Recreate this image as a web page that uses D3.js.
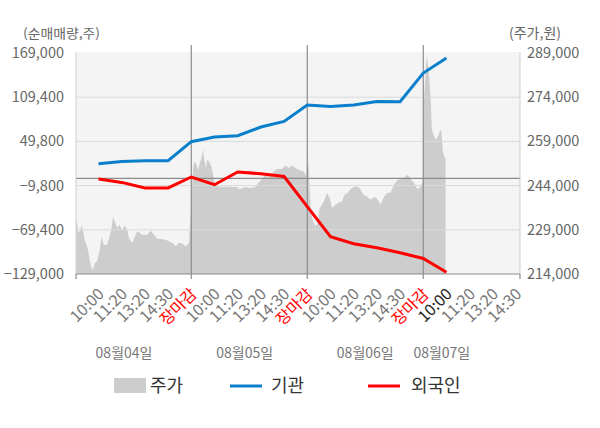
<!DOCTYPE html>
<html><head><meta charset="utf-8">
<script src="https://cdn.jsdelivr.net/npm/d3@7"></script>
<style>
html,body{margin:0;padding:0;background:#fff;}
svg{display:block;font-family:"Noto Sans CJK KR","Noto Sans",sans-serif;}
</style></head>
<body><svg id="c" width="600" height="428"></svg>
<script>
// ---- data ----
const tickLabels = ["10:00","11:20","13:20","14:30","장마감"];
const dateLabels = ["08월04일","08월05일","08월06일","08월07일"];
const leftTicks = [-129000,-69400,-9800,49800,109400,169000];
const rightTicks = [214000,229000,244000,259000,274000,289000];
// net buying (shares), one value per tick slot 1..16
const institution = [19700,22800,23800,23800,49400,55700,57500,69200,76800,98900,97000,98900,103700,103300,142000,162300];
const foreign = [-900,-5500,-13000,-13000,1800,-8600,8500,6200,2500,-38200,-78700,-88100,-93500,-100300,-108000,-126600];
// stock price (won): time position (tick slots) and price
const pricePos = [0,0.14,0.22,0.29,0.40,0.51,0.58,0.68,0.75,0.84,0.94,1.04,1.13,1.23,1.37,1.44,1.55,1.63,1.70,1.81,1.90,2.02,2.13,2.24,2.31,2.45,2.60,2.67,2.89,3.10,3.25,3.39,3.54,3.75,3.97,4.19,4.33,4.47,4.62,4.76,4.90,
 4.97,5.01,5.08,5.15,5.23,5.29,5.37,5.44,5.51,5.55,5.63,5.68,5.77,5.87,5.94,6.02,6.16,6.31,6.52,6.74,6.96,7.10,7.32,7.53,7.75,7.89,8.04,8.18,8.32,8.47,8.69,8.90,9.08,9.19,9.34,9.48,9.62,9.84,9.96,
 10.0,10.06,10.10,10.16,10.25,10.35,10.45,10.53,10.64,10.74,10.85,10.97,11.07,11.21,11.36,11.50,11.60,11.74,11.86,12.00,12.18,12.29,12.44,12.58,12.73,12.90,13.04,13.16,13.30,13.45,13.59,13.74,13.88,14.03,14.20,14.34,14.46,14.60,14.75,14.89,14.98,
 15.03,15.11,15.15,15.21,15.25,15.32,15.37,15.44,15.54,15.64,15.73,15.79,15.84,15.90,15.96];
const priceVal = [232800,227900,229000,230700,225600,223400,220600,216600,215200,217700,218300,221700,226600,223900,223900,225600,229000,233500,231900,229600,230700,229000,230400,229000,226200,224500,227300,228500,227300,227300,228800,227300,225900,225900,225400,224500,223400,224700,224300,223400,224500,
 234100,240300,250500,252200,251100,249400,251700,253400,256400,253400,250000,252800,252200,250500,247700,244300,243700,243500,243700,243500,243500,242800,243500,243200,243500,244900,246200,247400,246900,248000,249600,249600,250900,250000,250800,250000,249400,248800,247100,
 254800,250500,242600,234700,231900,230200,231300,236400,237500,239200,241500,239800,236400,237500,238300,238600,240900,241500,242800,243500,243700,242600,240600,240300,239200,240100,239200,237500,240100,241500,241700,244300,245800,246200,246900,247700,246200,244900,242800,243700,245400,
 273200,283300,287900,284500,281100,273200,263000,261300,259600,260700,263000,261900,255600,253900,253400];

// ---- layout ----
const L = 76, R = 520, T = 53, B = 274;
const svg = d3.select("#c");
const x = d3.scaleLinear().domain([0, 19.2]).range([75.3, 520.7]);
const yL = d3.scaleLinear().domain([-129000, 169000]).range([B, T]);
const yR = d3.scaleLinear().domain([214000, 289000]).range([B, T]);
const fmt = d3.format(",");

svg.append("rect").attr("x", L).attr("y", T - 1).attr("width", R - L).attr("height", B - T + 1).attr("fill", "#f4f4f4");

// price area
const pts = pricePos.map((p, i) => [p, priceVal[i]]);
svg.append("path").datum(pts)
  .attr("d", d3.area().x(d => Math.max(L, x(d[0]))).y0(B).y1(d => yR(d[1])))
  .attr("fill", "#cdcdcd");

// horizontal grid
svg.append("g").selectAll("line").data(leftTicks.slice(1, -1)).join("line")
  .attr("x1", L).attr("x2", R).attr("y1", d => yL(d)).attr("y2", d => yL(d))
  .attr("stroke", "#dadada").attr("stroke-width", 1);
// zero line
svg.append("line").attr("x1", L).attr("x2", R).attr("y1", yL(0)).attr("y2", yL(0))
  .attr("stroke", "#8c8c8c").attr("stroke-width", 1.2);
// day separators
const daySep = [5, 10, 15];
svg.append("g").selectAll("line").data(daySep).join("line")
  .attr("x1", d => x(d)).attr("x2", d => x(d)).attr("y1", 45).attr("y2", B)
  .attr("stroke", "#8c8c8c").attr("stroke-width", 1.2);

// axes lines
svg.append("line").attr("x1", L).attr("x2", L).attr("y1", T - 1).attr("y2", B).attr("stroke", "#cfcfcf");
svg.append("line").attr("x1", R).attr("x2", R).attr("y1", T - 1).attr("y2", B).attr("stroke", "#cfcfcf");
svg.append("line").attr("x1", L).attr("x2", R).attr("y1", B).attr("y2", B).attr("stroke", "#8c8c8c").attr("stroke-width", 1.2);
svg.append("g").selectAll("line").data([L, x(5), x(10), x(15), R]).join("line")
  .attr("x1", d => d).attr("x2", d => d).attr("y1", B).attr("y2", B + 5)
  .attr("stroke", "#8c8c8c").attr("stroke-width", 1.2);

// lines
const line = d3.line().x((d, i) => x(i + 1)).y(d => yL(d));
svg.append("path").datum(institution).attr("d", line).attr("fill", "none")
  .attr("stroke", "#0a7fcc").attr("stroke-width", 3);
svg.append("path").datum(foreign).attr("d", line).attr("fill", "none")
  .attr("stroke", "#ff0000").attr("stroke-width", 3);

// y axis labels
svg.append("g").selectAll("text").data(leftTicks).join("text")
  .attr("x", 64).attr("y", d => yL(d)).attr("dy", "0.35em").attr("text-anchor", "end")
  .attr("font-size", 14.5).attr("fill", "#666").text(d => fmt(d));
svg.append("g").selectAll("text").data(rightTicks).join("text")
  .attr("x", 527).attr("y", d => yR(d)).attr("dy", "0.35em").attr("text-anchor", "start")
  .attr("font-size", 14.5).attr("fill", "#666").text(d => fmt(d));
svg.append("text").attr("x", 23).attr("y", 33).attr("dy", "0.35em").attr("font-size", 13)
  .attr("textLength", 77).attr("lengthAdjust", "spacingAndGlyphs")
  .attr("fill", "#666").text("(순매매량,주)");
svg.append("text").attr("x", 509).attr("y", 33).attr("dy", "0.35em").attr("font-size", 14)
  .attr("fill", "#666").text("(주가,원)");

// x tick labels
const xt = d3.range(1, 20);
svg.append("g").selectAll("text").data(xt).join("text")
  .attr("transform", d => `translate(${x(d) + 6.5},${B + 21}) rotate(-45)`)
  .attr("text-anchor", "end").attr("font-size", 16)
  .attr("fill", d => (d % 5 === 0) ? "#ff0000" : (d === 16 ? "#222" : "#777"))
  .text(d => tickLabels[(d - 1) % 5]);

// date labels
const datePos = [2.1, 7.3, 12.5, 15.8];
svg.append("g").selectAll("text").data(dateLabels).join("text")
  .attr("x", (d, i) => x(datePos[i])).attr("y", 353).attr("dy", "0.35em").attr("text-anchor", "middle")
  .attr("font-size", 14).attr("fill", "#777").text(d => d);

// legend
const lg = svg.append("g");
lg.append("rect").attr("x", 114).attr("y", 378).attr("width", 32).attr("height", 15).attr("fill", "#cdcdcd");
lg.append("text").attr("x", 150).attr("y", 386).attr("dy", "0.35em").attr("font-size", 18).attr("fill", "#333").text("주가");
lg.append("line").attr("x1", 230).attr("x2", 262).attr("y1", 386).attr("y2", 386).attr("stroke", "#0a7fcc").attr("stroke-width", 3);
lg.append("text").attr("x", 271).attr("y", 386).attr("dy", "0.35em").attr("font-size", 18).attr("fill", "#333").text("기관");
lg.append("line").attr("x1", 368).attr("x2", 400).attr("y1", 386).attr("y2", 386).attr("stroke", "#ff0000").attr("stroke-width", 3);
lg.append("text").attr("x", 411).attr("y", 386).attr("dy", "0.35em").attr("font-size", 18).attr("fill", "#333").text("외국인");
</script></body></html>
